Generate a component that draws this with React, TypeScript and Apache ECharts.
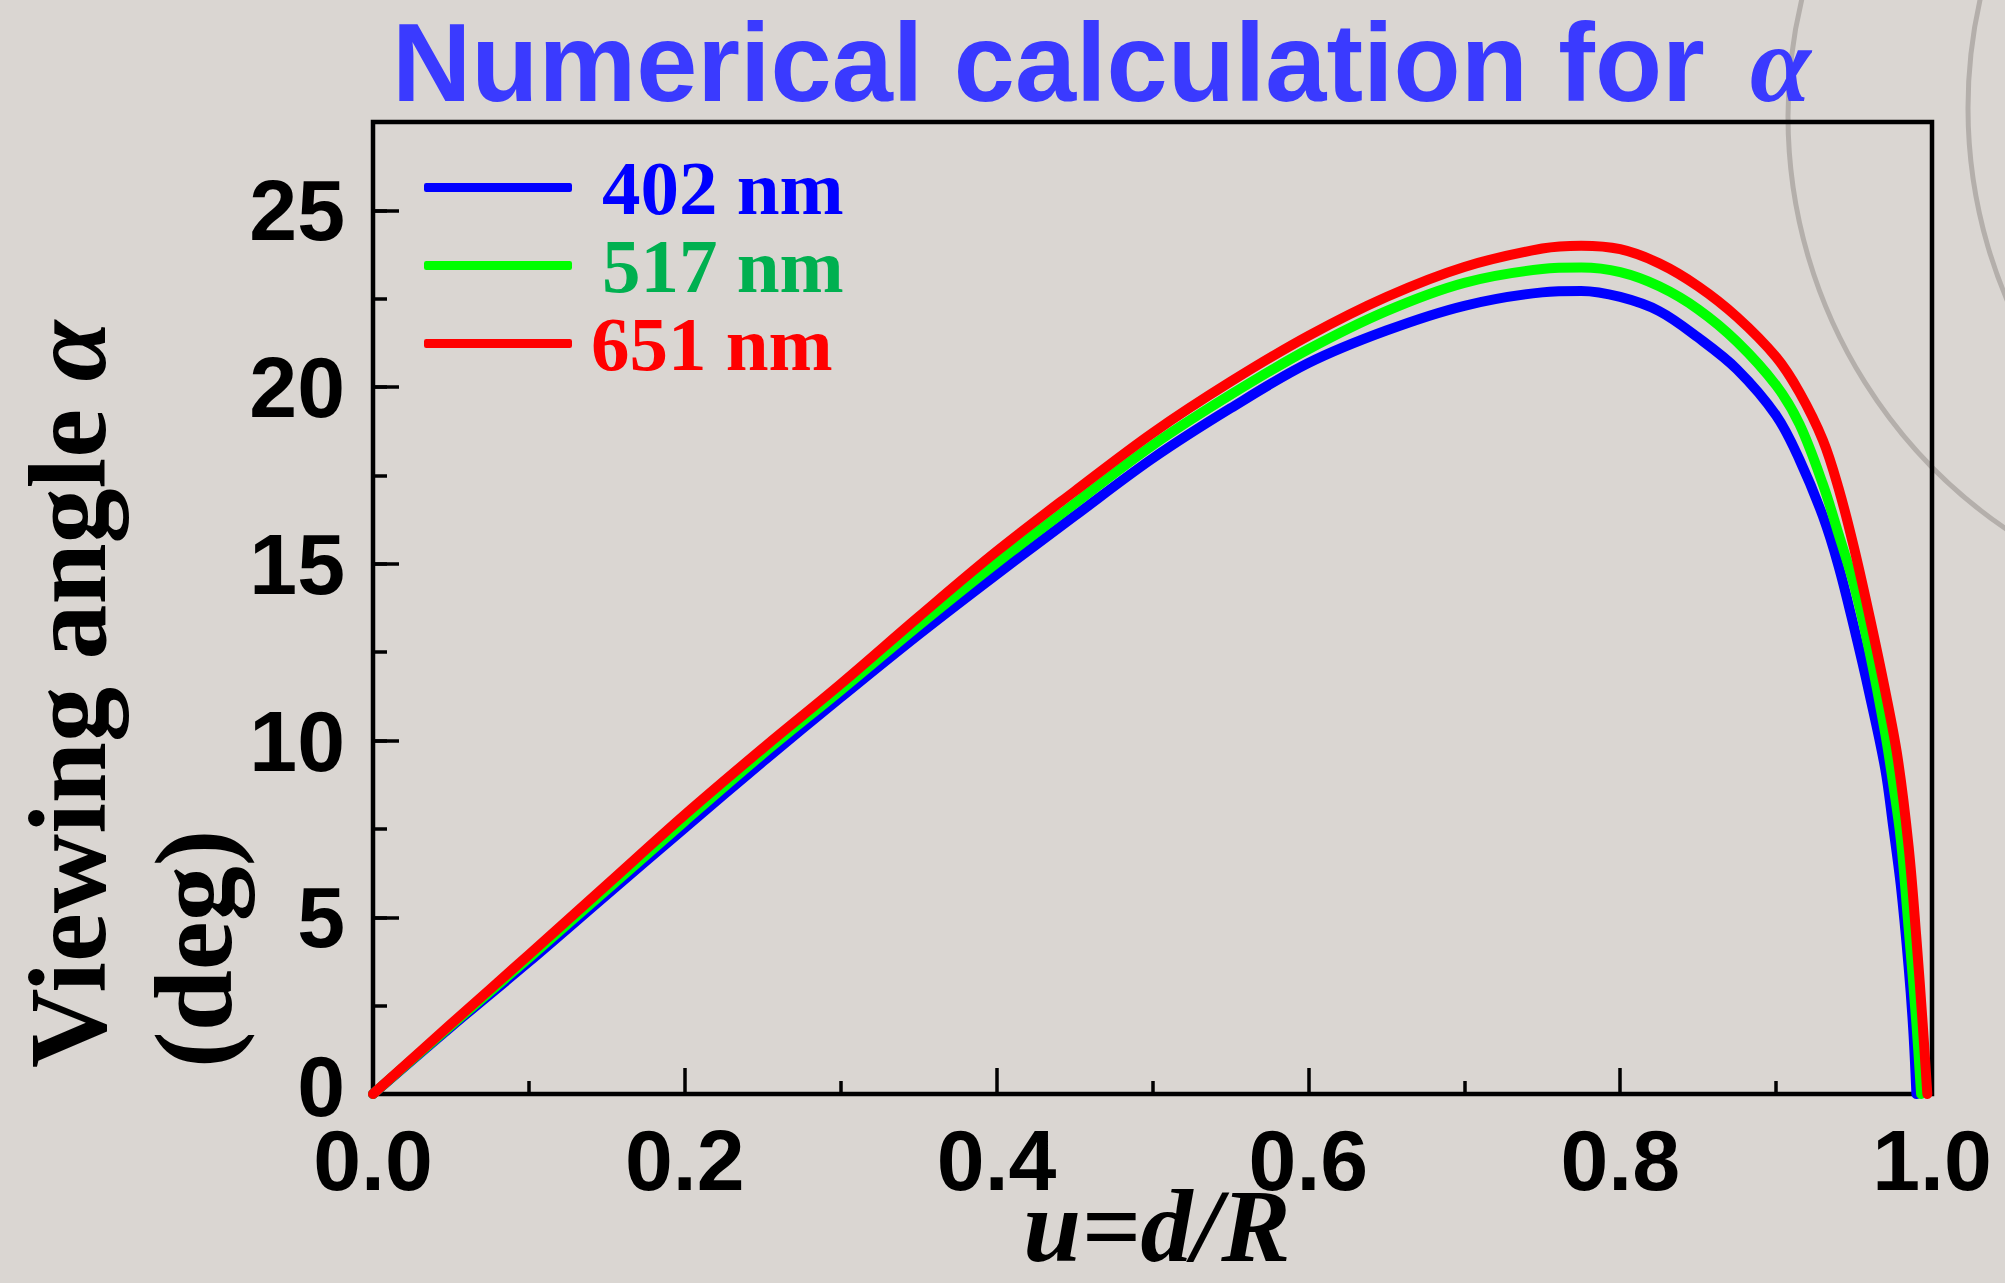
import React, { useEffect, useRef } from "react";
import * as echarts from "echarts";

// ---- texts ----
const TITLE_TEXT = "Numerical calculation for";
const TITLE_SYMBOL = "α";
const X_NAME = "u=d/R";
const Y_NAME_LINE1 = "Viewing angle ";
const Y_NAME_SYMBOL = "α";
const Y_NAME_LINE2 = "(deg)";

// ---- series meta ----
const SERIES_NAMES = ["402 nm", "517 nm", "651 nm"];
const LINE_COLORS = ["#0000ff", "#00ff00", "#ff0000"];
const TEXT_COLORS = ["#0000ff", "#00b050", "#ff0000"];

// ---- axes ----
const X_MIN = 0;
const X_MAX = 1;
const X_STEP = 0.2;
const Y_MIN = 0;
const Y_MAX = 27.5;
const Y_STEP = 5;
const Y_MINOR_STEP = 2.5;

// ---- data (u = d/R, viewing angle in deg) ----
const U_402 = [0, 0.05, 0.1, 0.15, 0.2, 0.25, 0.3, 0.35, 0.4, 0.45, 0.5, 0.55, 0.6, 0.65, 0.7, 0.75, 0.775, 0.8, 0.825, 0.85, 0.875, 0.9, 0.915, 0.93, 0.94, 0.95, 0.96, 0.97, 0.975, 0.98, 0.985, 0.988, 0.99];
const A_402 = [0, 1.9, 3.74, 5.64, 7.53, 9.4, 11.22, 13.0, 14.7, 16.35, 17.98, 19.4, 20.68, 21.6, 22.3, 22.68, 22.72, 22.55, 22.15, 21.4, 20.5, 19.2, 17.95, 16.35, 14.95, 13.2, 11.3, 9.2, 7.6, 5.9, 3.6, 1.8, 0];

const U_517 = [0, 0.05, 0.1, 0.15, 0.2, 0.25, 0.3, 0.35, 0.4, 0.45, 0.5, 0.55, 0.6, 0.65, 0.7, 0.75, 0.775, 0.8, 0.825, 0.85, 0.875, 0.9, 0.915, 0.93, 0.94, 0.95, 0.96, 0.97, 0.975, 0.98, 0.985, 0.99, 0.993];
const A_517 = [0, 1.94, 3.85, 5.78, 7.72, 9.62, 11.42, 13.25, 15.02, 16.7, 18.35, 19.78, 21.07, 22.15, 22.95, 23.34, 23.38, 23.25, 22.85, 22.2, 21.28, 20.05, 18.95, 17.25, 15.85, 14.4, 12.5, 10.2, 8.8, 7.2, 4.7, 2.0, 0];

const U_651 = [0, 0.05, 0.1, 0.15, 0.2, 0.25, 0.3, 0.35, 0.4, 0.45, 0.5, 0.55, 0.6, 0.65, 0.7, 0.75, 0.775, 0.8, 0.825, 0.85, 0.875, 0.9, 0.915, 0.93, 0.94, 0.95, 0.96, 0.97, 0.978, 0.985, 0.99, 0.994, 0.997];
const A_651 = [0, 1.98, 3.94, 5.92, 7.9, 9.78, 11.6, 13.5, 15.35, 17.05, 18.7, 20.15, 21.45, 22.55, 23.4, 23.92, 24.0, 23.9, 23.5, 22.85, 21.98, 20.85, 19.85, 18.5, 17.15, 15.45, 13.5, 11.4, 9.5, 7.0, 4.4, 2.0, 0];

const SERIES_U = [U_402, U_517, U_651];
const SERIES_A = [A_402, A_517, A_651];

const FONT_SANS = "'Liberation Sans', Arial, sans-serif";
const FONT_SERIF = "'Liberation Serif', 'Times New Roman', serif";

export default function App() {
  const ref = useRef<HTMLDivElement | null>(null);

  useEffect(() => {
    if (!ref.current) return;
    const chart = echarts.init(ref.current, null, { renderer: "svg" });

    const tickLine = { color: "#000", width: 3.5 };
    const arcStyle = { fill: "none", stroke: "#b4afab", lineWidth: 5 };
    const tickFont = { fontFamily: FONT_SANS, fontWeight: "bold", fontSize: 86, color: "#000" };

    const option: any = {
      animation: false,
      backgroundColor: "#dad6d2",
      grid: {
        left: 373,
        right: 73,
        top: 122,
        bottom: 189,
        show: true,
        borderColor: "#000",
        borderWidth: 4.5,
        backgroundColor: "transparent",
        containLabel: false,
        outerBoundsMode: "none",
      },
      xAxis: [
        {
          type: "value",
          min: X_MIN,
          max: X_MAX,
          interval: X_STEP,
          axisLine: { show: false },
          axisTick: { show: true, inside: true, length: 26, lineStyle: tickLine },
          minorTick: { show: true, splitNumber: 2, length: 13, lineStyle: tickLine },
          splitLine: { show: false },
          minorSplitLine: { show: false },
          axisLabel: {
            ...tickFont,
            margin: 34,
            lineHeight: 64,
            formatter: (v: number) => v.toFixed(1),
          },
        },
      ],
      yAxis: [
        {
          type: "value",
          min: Y_MIN,
          max: Y_MAX,
          interval: Y_STEP,
          axisLine: { show: false },
          axisTick: { show: true, inside: true, length: 26, lineStyle: tickLine },
          splitLine: { show: false },
          axisLabel: {
            ...tickFont,
            margin: 28,
            lineHeight: 64,
            showMaxLabel: false,
            formatter: (v: number) => (v === 0 ? "{z|0}" : String(v)),
            rich: {
              z: { ...tickFont, lineHeight: 64, padding: [0, 0, 16, 0] },
            },
          },
        },
        {
          type: "value",
          min: Y_MIN,
          max: Y_MAX,
          interval: Y_MINOR_STEP,
          position: "left",
          axisLine: { show: false },
          axisTick: { show: true, inside: true, length: 14, lineStyle: tickLine },
          splitLine: { show: false },
          axisLabel: { show: false },
        },
      ],
      legend: {
        orient: "vertical",
        left: 424,
        top: 149,
        padding: 0,
        itemGap: 1,
        itemWidth: 148,
        itemHeight: 9,
        icon: "roundRect",
        selectedMode: false,
        textStyle: {
          fontFamily: FONT_SERIF,
          fontWeight: "bold",
          fontSize: 77,
          lineHeight: 77,
          padding: [0, 0, 0, 25],
        },
        data: SERIES_NAMES.map((n, i) => ({
          name: n,
          textStyle: { color: TEXT_COLORS[i], padding: [0, 0, 0, i === 2 ? 14 : 25] },
        })),
      },
      graphic: [
        {
          type: "circle",
          z: -10,
          silent: true,
          shape: { cx: 2288, cy: 116, r: 500 },
          style: arcStyle,
        },
        {
          type: "circle",
          z: -10,
          silent: true,
          shape: { cx: 2460, cy: 108, r: 492 },
          style: arcStyle,
        },
        {
          type: "text",
          x: 392,
          y: 62,
          scaleX: 0.99,
          z: 5,
          style: {
            text: TITLE_TEXT,
            fontFamily: FONT_SANS,
            fontWeight: "bold",
            fontSize: 111,
            lineHeight: 90,
            fill: "#3a3aff",
            align: "left",
            verticalAlign: "middle",
          },
        },
        {
          type: "text",
          x: 1750,
          y: 64,
          z: 5,
          style: {
            text: TITLE_SYMBOL,
            fontFamily: FONT_SERIF,
            fontStyle: "italic",
            fontWeight: "bold",
            fontSize: 110,
            lineHeight: 90,
            fill: "#3a3aff",
            align: "left",
            verticalAlign: "middle",
          },
        },
        {
          type: "text",
          x: 1157,
          y: 1225,
          z: 5,
          style: {
            text: X_NAME,
            fontFamily: FONT_SERIF,
            fontStyle: "italic",
            fontWeight: "bold",
            fontSize: 104,
            lineHeight: 60,
            fill: "#000",
            align: "center",
            verticalAlign: "middle",
          },
        },
        {
          type: "text",
          x: 68,
          y: 1068,
          rotation: Math.PI / 2,
          z: 5,
          style: {
            text: `{a|${Y_NAME_LINE1}}{b|${Y_NAME_SYMBOL}}`,
            fill: "#000",
            align: "left",
            verticalAlign: "middle",
            rich: {
              a: { fontFamily: FONT_SERIF, fontWeight: "bold", fontSize: 110, lineHeight: 100, fill: "#000" },
              b: { fontFamily: FONT_SERIF, fontWeight: "bold", fontStyle: "italic", fontSize: 110, lineHeight: 100, fill: "#000" },
            },
          },
        },
        {
          type: "text",
          x: 194,
          y: 1068,
          rotation: Math.PI / 2,
          z: 5,
          style: {
            text: Y_NAME_LINE2,
            fontFamily: FONT_SERIF,
            fontWeight: "bold",
            fontSize: 110,
            lineHeight: 90,
            fill: "#000",
            align: "left",
            verticalAlign: "middle",
          },
        },
      ],
      series: SERIES_NAMES.map((name, i) => ({
        type: "line",
        name,
        xAxisIndex: 0,
        yAxisIndex: 0,
        data: SERIES_U[i].map((u, k) => [u, SERIES_A[i][k]]),
        showSymbol: false,
        symbol: "none",
        smooth: 0.35,
        clip: false,
        z: 3 + i,
        lineStyle: { width: 10, color: LINE_COLORS[i], cap: "round", join: "round" },
        itemStyle: { color: LINE_COLORS[i] },
      })),
    };

    chart.setOption(option);
    return () => chart.dispose();
  }, []);

  return (
    <div
      ref={ref}
      style={{ position: "fixed", left: 0, top: 0, width: 2005, height: 1283 }}
    />
  );
}
